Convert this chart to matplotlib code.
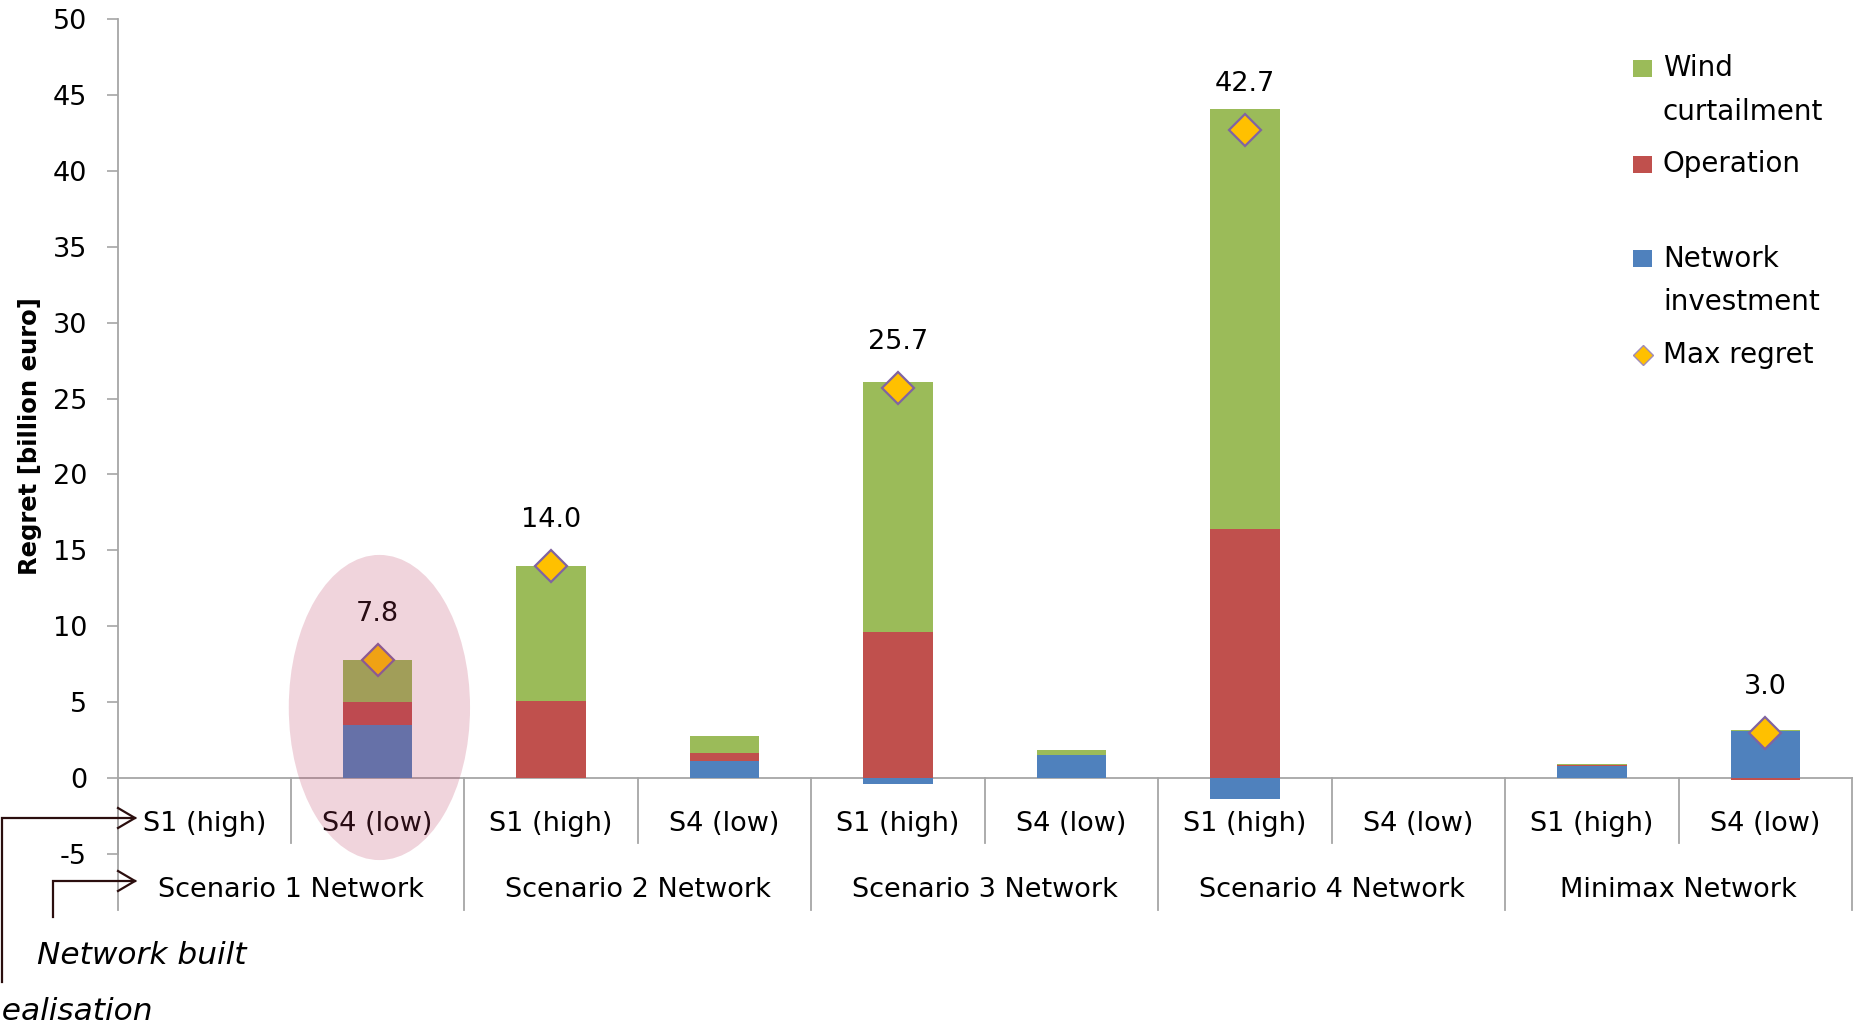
import matplotlib
matplotlib.use("Agg")
import matplotlib.pyplot as plt
from matplotlib.patches import Ellipse, Rectangle
from matplotlib.lines import Line2D
import numpy as np

plt.rcParams["axes.unicode_minus"] = False

# ---------------- data ----------------
categories = ["S1 (high)", "S4 (low)"] * 5
groups = ["Scenario 1 Network", "Scenario 2 Network", "Scenario 3 Network",
          "Scenario 4 Network", "Minimax Network"]
network = [0.0, 3.5, 0.0, 1.1, -0.4, 1.5, -1.35, 0.0, 0.8, 3.1]
operation = [0.0, 1.5, 5.1, 0.55, 9.6, 0.05, 16.4, 0.0, 0.05, -0.12]
wind = [0.0, 2.8, 8.9, 1.15, 16.5, 0.32, 27.65, 0.0, 0.05, 0.05]
max_regret = [np.nan, 7.8, 14.0, np.nan, 25.7, np.nan, 42.7, np.nan, np.nan, 3.0]
legend_labels = ["Wind\ncurtailment", "Operation", "Network\ninvestment", "Max regret"]
y_ticks = list(range(-5, 51, 5))

GREEN, RED, BLUE = "#9BBB59", "#C0504D", "#4F81BD"
GOLD, PURPLE = "#FFC000", "#8064A2"
GREY = "#A6A6A6"
INK = "#2B0E0E"

W, H = 1858, 1030
fig = plt.figure(figsize=(W / 100, H / 100), dpi=100)
def fx(p): return p / W
def fy(p): return 1 - p / H

ax = fig.add_axes([fx(117.5), fy(854), fx(1852) - fx(117.5), fy(19) - fy(854)])

x = np.arange(len(categories))
pos_base = np.zeros(len(x))
neg_base = np.zeros(len(x))
for vals, col in [(network, BLUE), (operation, RED), (wind, GREEN)]:
    v = np.array(vals)
    bottoms = np.where(v >= 0, pos_base, neg_base)
    ax.bar(x, v, 0.4, bottom=bottoms, color=col, zorder=3)
    pos_base = pos_base + np.where(v > 0, v, 0)
    neg_base = neg_base + np.where(v < 0, v, 0)

mr = np.array(max_regret)
ax.plot(x, mr, ls="none", marker="D", ms=16, mfc=GOLD, mec=PURPLE, mew=1.6, zorder=5)
for i, v in enumerate(mr):
    if not np.isnan(v):
        ax.annotate(f"{v:.1f}", (i, v), xytext=(0, 33), textcoords="offset points",
                    ha="center", va="center", fontsize=19.5, color="black")

ax.set_xlim(-0.5, 9.5)
ax.set_ylim(-5, 50)
ax.set_yticks(y_ticks)
ax.tick_params(axis="y", labelsize=19.5, length=8, width=1.2, color=GREY, pad=14,
               labelcolor="black")
ax.set_xticks(x)
ax.set_xticklabels(categories)
ax.tick_params(axis="x", length=0, labelsize=19.5, pad=23.5, labelcolor="black")
for s in ["top", "right"]:
    ax.spines[s].set_visible(False)
ax.spines["bottom"].set_position(("data", 0))
ax.spines["left"].set_color(GREY)
ax.spines["bottom"].set_color(GREY)
ax.spines["left"].set_linewidth(1.3)
ax.spines["bottom"].set_linewidth(1.3)

# category separators
for b in np.arange(-0.5, 10, 1.0):
    is_group = int(round(b + 0.5)) % 2 == 0
    ax.plot([b, b], [0, -8.7 if is_group else -4.28], color=GREY, lw=1.3,
            clip_on=False, zorder=2)
for g, name in enumerate(groups):
    ax.text(2 * g + 0.5, -7.35, name, ha="center", va="center", fontsize=19.5,
            color="black", clip_on=False)

ax.set_ylabel("Regret [billion euro]", fontsize=17.5, fontweight="bold", va="center")
ax.yaxis.set_label_coords((30 - 117.5) / (1852 - 117.5), 0.5)

# highlight ellipse
ax.add_patch(Ellipse((1.01, 4.65), 1.045, 20.1, facecolor=(0.73, 0.22, 0.365),
                     alpha=0.216, edgecolor="none", zorder=10, clip_on=False))

# ---------------- legend (manual, Excel-style) ----------------
sq = [(GREEN, 68.5), (RED, 164), (BLUE, 258.5)]
for col, cy in sq:
    fig.add_artist(Rectangle((fx(1633), fy(cy + 8.5)), 19 / W, 17 / H,
                             transform=fig.transFigure, facecolor=col, edgecolor="none"))
fig.add_artist(Line2D([fx(1643)], [fy(355)], transform=fig.transFigure, ls="none",
                      marker="D", ms=10, mfc=GOLD, mec="#A08CB8", mew=1.0))
text_rows = [(legend_labels[0].split("\n"), [68, 112]),
             (legend_labels[1].split("\n"), [164]),
             (legend_labels[2].split("\n"), [259, 302]),
             (legend_labels[3].split("\n"), [355])]
for lines, ys in text_rows:
    for ln, yy in zip(lines, ys):
        fig.text(fx(1663), fy(yy), ln, ha="left", va="center", fontsize=20, color="black")

# ---------------- bottom-left annotation arrows ----------------
def poly(pts):
    fig.add_artist(Line2D([fx(p[0]) for p in pts], [fy(p[1]) for p in pts],
                          transform=fig.transFigure, color=INK, lw=1.6,
                          solid_joinstyle="miter"))
poly([(2, 982), (2, 818), (135, 818)])
poly([(118, 808), (135, 818), (118, 828)])
poly([(53, 917), (53, 881), (135, 881)])
poly([(118, 871), (135, 881), (118, 891)])
fig.text(fx(37), fy(956), "Network built", ha="left", va="center", fontsize=22.5,
         style="italic", color="black")
fig.text(fx(153), fy(1011), "Realisation", ha="right", va="center", fontsize=22.5,
         style="italic", color="black")

fig.savefig("out.png", dpi=100)
